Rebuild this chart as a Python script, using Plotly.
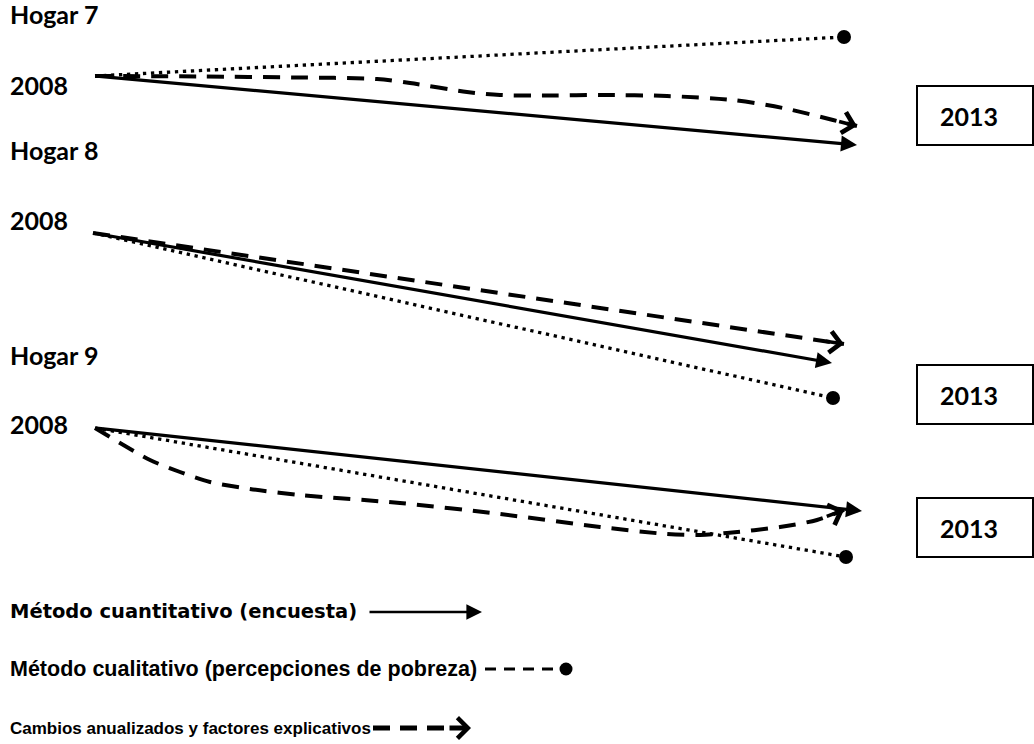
import math
import plotly.graph_objects as go

W, H = 1034, 744

# ---- labels ----
row_labels = ["Hogar 7", "Hogar 8", "Hogar 9"]
row_label_y = [14, 150, 355]
start_label = "2008"
start_label_y = [85, 219.5, 423.5]
end_label = "2013"
end_box_x0 = [917, 917, 917]
end_box_x1 = [1033, 1033, 1033]
end_box_y0 = [86, 365, 498]
end_box_y1 = [145, 424, 557]

# ---- series: quantitative method (solid arrows) ----
quant_x0 = [95, 93, 95]
quant_y0 = [76, 233, 428]
quant_x1 = [857, 832, 862]
quant_y1 = [145, 363, 511]

# ---- series: qualitative method (dotted line ending in dot) ----
qual_x1 = [844, 833, 846]
qual_y1 = [37, 398, 557]

# ---- series: annualized changes (dashed line, open arrow) ----
h7_dash_x = [95, 200, 300, 377, 410, 467, 500, 550, 600, 667, 733, 783, 833, 857]
h7_dash_y = [76, 76.5, 77.5, 79, 83, 92, 95, 95.5, 95, 96, 100, 108, 120, 126]
h8_dash_x = [93, 844]
h8_dash_y = [233, 344]
h9_dash_x = [95, 120, 150, 180, 210, 250, 300, 400, 500, 600, 667, 700, 727, 780, 817, 844]
h9_dash_y = [428, 443, 460, 472, 482, 489, 495, 503, 514, 527, 534, 535, 533, 527, 520, 510]
dash_x = [h7_dash_x, h8_dash_x, h9_dash_x]
dash_y = [h7_dash_y, h8_dash_y, h9_dash_y]

# ---- legend ----
legend_labels = [
    "Método cuantitativo (encuesta)",
    "Método cualitativo (percepciones de pobreza)",
    "Cambios anualizados y factores explicativos",
]
legend_y = [611, 669, 728]
leg1_x = [368, 482]
leg2_x = [485, 558]
leg2_dot_x = [566]
leg3_x = [373, 452]
leg3_tip_x = [471]

fig = go.Figure()
ann = []
shapes = []

BLACK = "black"
head_font = dict(family="Lato", size=25, color=BLACK, weight="bold")
leg_fonts = [
    dict(family="DejaVu Sans", size=19.5, color=BLACK, weight="bold"),
    dict(family="Liberation Sans", size=21.5, color=BLACK, weight="bold"),
    dict(family="Liberation Sans", size=17, color=BLACK, weight="bold"),
]

for i in range(3):
    ann.append(dict(x=8, y=row_label_y[i], text=row_labels[i], font=head_font,
                    xanchor="left", yanchor="middle", showarrow=False))
    ann.append(dict(x=8, y=start_label_y[i], text=start_label, font=head_font,
                    xanchor="left", yanchor="middle", showarrow=False))
    shapes.append(dict(type="rect", xref="x", yref="y",
                       x0=end_box_x0[i], x1=end_box_x1[i], y0=end_box_y0[i], y1=end_box_y1[i],
                       line=dict(color=BLACK, width=2), fillcolor="white"))
    ann.append(dict(x=end_box_x0[i] + 21, y=(end_box_y0[i] + end_box_y1[i]) / 2,
                    text=end_label, font=head_font, xanchor="left", yanchor="middle",
                    showarrow=False))

    # qualitative dotted line + dot
    fig.add_trace(go.Scatter(x=[quant_x0[i], qual_x1[i]], y=[quant_y0[i], qual_y1[i]],
                             mode="lines", line=dict(color=BLACK, width=3.3, dash="3.3px,4.7px"),
                             hoverinfo="skip"))
    fig.add_trace(go.Scatter(x=[qual_x1[i]], y=[qual_y1[i]], mode="markers",
                             marker=dict(size=14, color=BLACK), hoverinfo="skip"))

    # dashed change line
    fig.add_trace(go.Scatter(x=dash_x[i], y=dash_y[i], mode="lines",
                             line=dict(color=BLACK, width=4, dash="17px,11px",
                                       shape="spline" if len(dash_x[i]) > 2 else "linear",
                                       smoothing=0.8),
                             hoverinfo="skip"))
    # open arrow head at end of dashed line
    xs, ys = dash_x[i], dash_y[i]
    dx, dy = xs[-1] - xs[-2], ys[-1] - ys[-2]
    L = math.hypot(dx, dy)
    ann.append(dict(x=xs[-1], y=ys[-1], ax=xs[-1] - 20 * dx / L, ay=ys[-1] - 20 * dy / L,
                    xref="x", yref="y", axref="x", ayref="y", text="", showarrow=True,
                    arrowhead=4, arrowsize=1.15, arrowwidth=3.6, arrowcolor=BLACK, standoff=0))

    # quantitative solid arrow
    ann.append(dict(x=quant_x1[i], y=quant_y1[i], ax=quant_x0[i], ay=quant_y0[i],
                    xref="x", yref="y", axref="x", ayref="y", text="", showarrow=True,
                    arrowhead=2, arrowsize=1, arrowwidth=3.2, arrowcolor=BLACK, standoff=0))

# legend
for i in range(3):
    ann.append(dict(x=8, y=legend_y[i], text=legend_labels[i], font=leg_fonts[i],
                    xanchor="left", yanchor="middle", showarrow=False))

ann.append(dict(x=leg1_x[1], y=legend_y[0] + 1, ax=leg1_x[0], ay=legend_y[0] + 1,
                xref="x", yref="y", axref="x", ayref="y", text="", showarrow=True,
                arrowhead=2, arrowsize=1.2, arrowwidth=2.6, arrowcolor=BLACK, standoff=0))

fig.add_trace(go.Scatter(x=leg2_x, y=[legend_y[1], legend_y[1]], mode="lines",
                         line=dict(color=BLACK, width=3, dash="11px,8px"), hoverinfo="skip"))
fig.add_trace(go.Scatter(x=leg2_dot_x, y=[legend_y[1]], mode="markers",
                         marker=dict(size=13, color=BLACK), hoverinfo="skip"))

fig.add_trace(go.Scatter(x=leg3_x, y=[legend_y[2], legend_y[2]], mode="lines",
                         line=dict(color=BLACK, width=5, dash="17px,10px"), hoverinfo="skip"))
ann.append(dict(x=leg3_tip_x[0], y=legend_y[2], ax=leg3_x[1] - 4, ay=legend_y[2],
                xref="x", yref="y", axref="x", ayref="y", text="", showarrow=True,
                arrowhead=4, arrowsize=0.8, arrowwidth=5, arrowcolor=BLACK, standoff=0))

fig.update_layout(
    width=W, height=H,
    margin=dict(l=0, r=0, t=0, b=0),
    paper_bgcolor="white", plot_bgcolor="white",
    showlegend=False,
    xaxis=dict(range=[0, W], visible=False, fixedrange=True),
    yaxis=dict(range=[H, 0], visible=False, fixedrange=True),
    annotations=ann, shapes=shapes,
)

fig.write_html("out.html", config={"displayModeBar": False},
               post_script="document.body.style.margin='0';"
               "document.body.style.overflow='hidden';")
